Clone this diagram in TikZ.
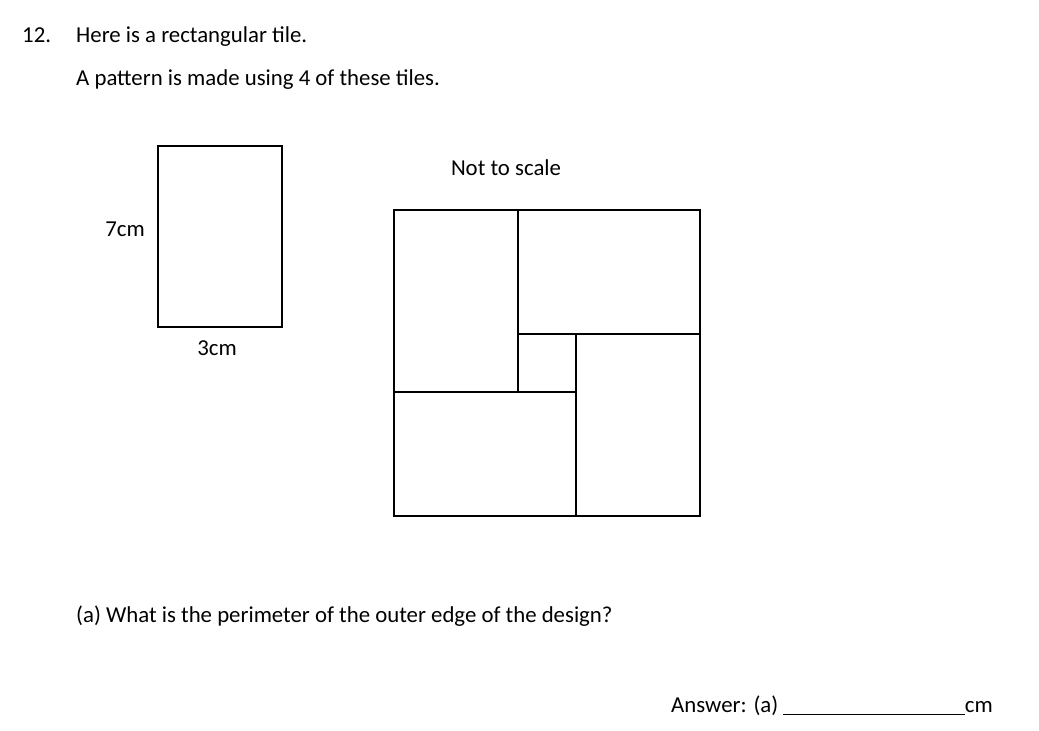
\documentclass[tikz,border=0pt]{standalone}
\usepackage{fontspec}
\setmainfont{Carlito}
\tikzset{>=latex}
\usetikzlibrary{positioning,calc}

\begin{document}
\begin{tikzpicture}[x=1pt,y=-1pt,
    txt/.style={font=\fontsize{22.8}{27}\selectfont, inner sep=0pt, anchor=base west},
    tile/.style={draw, line width=2.5pt}]
  \useasboundingbox (0,0) rectangle (1039,731);
  % question text
  \node[txt] (num) at (22,42) {12.};
  \node[txt] (intro) at (76,42) {Here is a rectangular tile.};
  \node[txt] (pattern) at (76,85) {A pattern is made using 4 of these tiles.};
  % single tile
  \pgfmathsetmacro{\tw}{124}
  \pgfmathsetmacro{\tl}{182}
  \coordinate (T) at (158,146);
  \draw[tile] (T) rectangle ++(\tw,\tl-1);
  \node[txt,anchor=base east] (len) at (145,236) {7cm};
  \node[txt,anchor=base] (wid) at (217,355) {3cm};
  % pattern of four tiles
  \node[txt,anchor=base] (scale) at (506,175) {Not to scale};
  \coordinate (P) at (394,210);
  \draw[tile] (P) rectangle ++(\tw,\tl);
  \draw[tile] ($(P)+(\tw,0)$) rectangle ++(\tl,\tw);
  \draw[tile] ($(P)+(\tl,\tw)$) rectangle ++(\tw,\tl);
  \draw[tile] ($(P)+(0,\tl)$) rectangle ++(\tl,\tw);
  % part (a)
  \node[txt] (qa) at (76,622) {(a) What is the perimeter of the outer edge of the design?};
  \node[txt] (ans) at (671,712) {Answer: (a)};
  \node[txt,anchor=base east] (unit) at (993,712) {cm};
  \coordinate (lineA) at (783,714);
  \draw[line width=1pt] (lineA) -- (unit.base west |- lineA);
\end{tikzpicture}
\end{document}
